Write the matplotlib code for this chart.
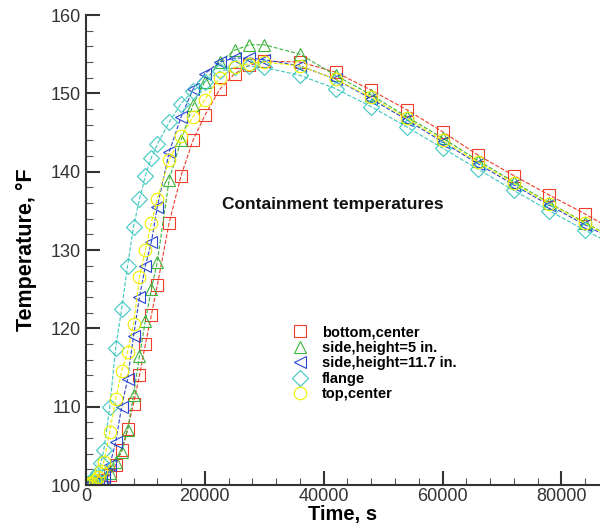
import matplotlib
matplotlib.use("Agg")
import matplotlib.pyplot as plt
from matplotlib.lines import Line2D
from matplotlib.ticker import MultipleLocator

plt.rcParams['font.family'] = ['Liberation Sans', 'DejaVu Sans']

# time grid, s
time = [0, 250, 500, 750, 1000, 1500, 2000, 2500, 3000, 4000, 5000, 6000, 7000, 8000, 9000,
        10000, 11000, 12000, 14000, 16000, 18000, 20000, 22500, 25000, 27500,
        30000, 36000, 42000, 48000, 54000, 60000, 66000, 72000, 78000, 84000, 90000]

bottom_center = [100, 100, 100, 100, 100, 100.1, 100.2, 100.4, 100.6, 101.3, 102.5, 104.5, 107.2,
                 110.4, 114, 118, 121.7, 125.5, 133.5, 139.5, 144, 147.2, 150.5, 152.5,
                 153.6, 154.1, 154, 152.7, 150.4, 147.9, 145.1, 142.1, 139.5, 137, 134.6, 132]
side_5 = [100, 100, 100, 100, 100, 100, 100.1, 100.3, 100.5, 101.5, 103, 104.2, 107, 111.5, 116.5,
          121, 125, 128.5, 139, 144, 148.5, 151.5, 154, 155.5, 156.2, 156.2, 155,
          152.3, 149.8, 147, 144.3, 141.4, 138.7, 136, 133.5, 131]
side_11_7 = [100, 100, 100, 100, 100, 100.1, 100.3, 100.6, 101, 102.5, 105.5, 110, 113.5, 119, 124,
             128, 131, 135.5, 142.5, 147, 150.5, 152.5, 154, 154.5, 154.5, 154.3, 153.5,
             151.8, 149.3, 146.6, 143.8, 141, 138.3, 135.7, 133.2, 130.8]
flange = [100, 100.1, 100.2, 100.3, 100.5, 101, 101.5, 102.8, 104.5, 110, 117.5, 122.5, 128, 133, 136.5,
          139.5, 141.8, 143.5, 146.3, 148.7, 150.3, 151.5, 152.8, 153.3, 153.5, 153.3,
          152.3, 150.6, 148.3, 145.7, 143, 140.3, 137.6, 135, 132.5, 130.2]
top_center = [100, 100, 100.1, 100.2, 100.3, 100.6, 101, 101.8, 103, 106.8, 111, 114.5, 117, 120.5,
              126.5, 130, 133.5, 136.5, 141.5, 144.5, 147, 149.2, 152, 153.3, 153.8, 154,
              153.5, 151.8, 149.5, 146.8, 144, 141.2, 138.5, 135.9, 133.4, 131]

labels = ["bottom,center", "side,height=5 in.", "side,height=11.7 in.", "flange", "top,center"]
colors = ["#f03c28", "#3cb43c", "#2846d2", "#3cc8c0", "#f0f000"]
markers = ["s", "^", "<", "D", "o"]
series = [bottom_center, side_5, side_11_7, flange, top_center]

fig = plt.figure(figsize=(6, 5.29), dpi=100)
ax = fig.add_axes([86 / 600, 44 / 529, 514 / 600, 470 / 529])

for vals, c, m in zip(series, colors, markers):
    ms = 8 if m == "D" else 9
    ax.plot(time, vals, color=c, linestyle="--", linewidth=0.8, marker=m,
            markersize=ms, markerfacecolor="none", markeredgecolor=c,
            markeredgewidth=0.8)

ax.set_xlim(0, 86500)
ax.set_ylim(100, 160)
ax.xaxis.set_major_locator(MultipleLocator(20000))
ax.xaxis.set_minor_locator(MultipleLocator(4000))
ax.yaxis.set_major_locator(MultipleLocator(10))
ax.yaxis.set_minor_locator(MultipleLocator(2))
ax.tick_params(which="major", direction="in", length=10, width=1.5, labelsize=13,
               colors="#333333", labelcolor="#333333")
ax.tick_params(which="minor", direction="in", length=5, width=0.8, colors="#555555")
ax.tick_params(axis="x", pad=2)
ax.spines["top"].set_visible(False)
ax.spines["right"].set_visible(False)
for s in ("left", "bottom"):
    ax.spines[s].set_linewidth(1.5)
    ax.spines[s].set_color("#333333")

ax.set_xlabel("Time, s", fontsize=14.5, fontweight="bold", labelpad=0)
ax.set_ylabel("Temperature, °F", fontsize=15.5, fontweight="bold", labelpad=10)

fig.text(222 / 600, 1 - 205 / 529, "Containment temperatures", va="center",
         fontsize=12.5, fontweight="bold", color="#111111")

handles = [Line2D([], [], linestyle="none", marker=m, markersize=(8 if m == "D" else 9),
                  markerfacecolor="none", markeredgecolor=c, markeredgewidth=0.8)
           for c, m in zip(colors, markers)]
ax.legend(handles, labels, loc="upper left", bbox_to_anchor=(284 / 600, 1 - 318 / 529),
          bbox_transform=fig.transFigure, frameon=False,
          handletextpad=0.9, labelspacing=0.1, borderpad=0, handlelength=1.2,
          prop={"weight": "bold", "size": 10.5})

fig.savefig("out.png", dpi=100)
